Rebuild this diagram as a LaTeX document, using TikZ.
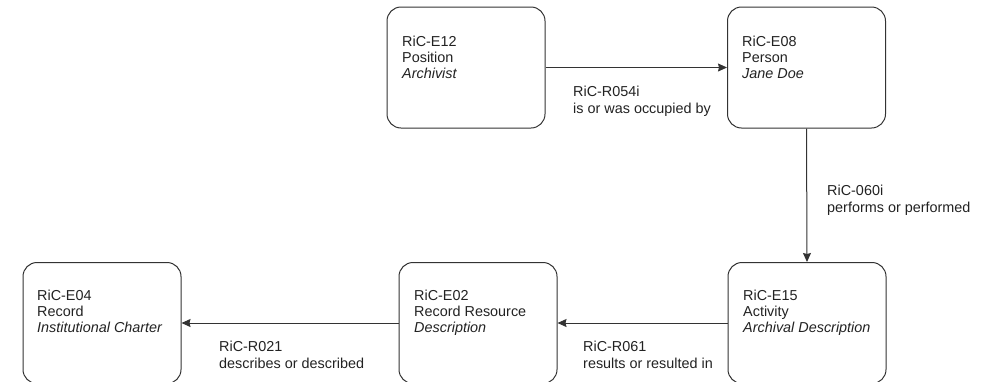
\documentclass[tikz,border=0pt]{standalone}
\usepackage{fontspec}
\setmainfont{Liberation Sans}
\usetikzlibrary{arrows.meta}
\definecolor{linegray}{HTML}{333333}
\definecolor{textgray}{HTML}{222222}
\tikzset{
  entity/.style={draw=linegray, line width=1pt, rounded corners=14pt,
    minimum width=158pt, minimum height=121pt, inner sep=0pt},
  entitytext/.style={anchor=north west, inner sep=0pt, align=left, text=textgray,
    font=\fontsize{14.4}{16}\selectfont},
  reltext/.style={anchor=north west, inner sep=0pt, align=left, text=textgray,
    font=\fontsize{14.4}{16.7}\selectfont},
  rel/.style={draw=linegray, line width=1pt,
    -{Stealth[length=9pt,width=8pt,inset=1pt]}}
}
\begin{document}
\begin{tikzpicture}[x=1pt,y=-1pt]
\useasboundingbox (0,0) rectangle (992,381);
\clip (0,0) rectangle (992,381);
% boxes
\node[entity] (e12) at (466,67.5) {};
\node[entity] (e08) at (806.5,67.5) {};
\node[entity] (e15) at (807,323) {};
\node[entity] (e02) at (478,323) {};
\node[entity] (e04) at (102,323) {};
% box texts
\node[entitytext] (e12t) at (402,36.2) {RiC-E12\\Position\\\textit{Archivist}};
\node[entitytext] (e08t) at (742,36.2) {RiC-E08\\Person\\\textit{Jane Doe}};
\node[entitytext] (e15t) at (743,290.2) {RiC-E15\\Activity\\\textit{Archival Description}};
\node[entitytext] (e02t) at (414,290.2) {RiC-E02\\Record Resource\\\textit{Description}};
\node[entitytext] (e04t) at (37,290.2) {RiC-E04\\Record\\\textit{Institutional Charter}};
% connectors
\draw[rel] (e12.east) -- (e08.west);
\draw[rel] (e08.south) -- (e15.north);
\draw[rel] (e15.west) -- (e02.east);
\draw[rel] (e02.west) -- (e04.east);
% connector labels
\node[reltext] (r054) at (573,85.7) {RiC-R054i\\is or was occupied by};
\node[reltext] (r060) at (827,184.7) {RiC-060i\\performs or performed};
\node[reltext] (r061) at (583,341.2) {RiC-R061\\results or resulted in};
\node[reltext] (r021) at (219,340.7) {RiC-R021\\describes or described};
\end{tikzpicture}
\end{document}
